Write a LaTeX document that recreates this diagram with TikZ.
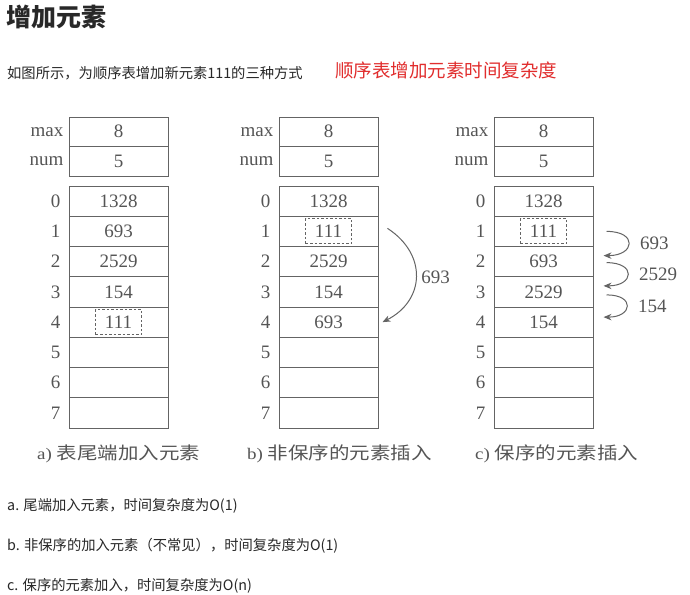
\documentclass[tikz,border=0pt]{standalone}
\usepackage{fontspec}
\setmainfont{Liberation Serif}
\newfontfamily\cjk{Noto Sans CJK SC}
\usetikzlibrary{positioning, arrows.meta}
\definecolor{linegray}{RGB}{100,100,100}
\definecolor{txtgray}{RGB}{85,85,85}
\definecolor{bodytxt}{RGB}{40,40,40}
\definecolor{hintred}{RGB}{225,45,45}

\tikzset{
  cell/.style={draw=linegray, line width=1pt, minimum width=99pt, minimum height=30.25pt, inner sep=0pt, text=txtgray, font=\fontsize{19}{19}\selectfont},
  head/.style={cell, minimum height=29.5pt},
  tag/.style={inner sep=0pt, text=txtgray, font=\fontsize{19}{19}\selectfont},
  newval/.style={tag, draw=linegray, dash pattern=on 2.5pt off 2pt, line width=0.9pt, minimum width=46pt, minimum height=25pt},
  move/.style={draw=linegray, line width=1pt, -{Stealth[length=8pt, width=6.5pt]}},
  caption/.style={inner sep=0pt, anchor=west, text=txtgray, font=\fontsize{19}{19}\selectfont},
  body/.style={inner sep=0pt, anchor=west, text=bodytxt, font=\cjk\fontsize{14.3}{14.3}\selectfont}
}

\begin{document}
\begin{tikzpicture}[x=1pt, y=-1pt]
  \useasboundingbox[fill=white] (0,0) rectangle (690,594);

  % Header text
  \node[anchor=west, inner sep=0pt, text=bodytxt, font=\cjk\bfseries\fontsize{25}{25}\selectfont] (title) at (6,17) {增加元素};
  \node[body] (intro) at (7,73) {如图所示，为顺序表增加新元素111的三种方式};
  \node[body, text=hintred, font=\cjk\fontsize{18.5}{18.5}\selectfont] (hint) at (335,70) {顺序表增加元素时间复杂度};

  % Three tables
  \foreach \t/\L in {a/69, b/279, c/494} {
    \node[head] (\t-max) at (\L+49.5, 131.75) {8};
    \node[head] (\t-num) at (\L+49.5, 161.25) {5};
    \node[tag, left=5pt of \t-max] (\t-maxtag) {max};
    \node[tag, left=5pt of \t-num] (\t-numtag) {num};
    \foreach \i in {0,...,7} {
      \node[cell] (\t\i) at (\L+49.5, 201.125+30.25*\i) {};
      \node[tag, left=8pt of \t\i] (\t\i-tag) {\i};
    }
  }

  % a) append at tail
  \node[tag] (va0) at (a0) {1328};
  \node[tag] (va1) at (a1) {693};
  \node[tag] (va2) at (a2) {2529};
  \node[tag] (va3) at (a3) {154};
  \node[newval] (va4) at (a4) {111};

  % b) unordered insert
  \node[tag] (vb0) at (b0) {1328};
  \node[newval] (vb1) at (b1) {111};
  \node[tag] (vb2) at (b2) {2529};
  \node[tag] (vb3) at (b3) {154};
  \node[tag] (vb4) at (b4) {693};
  \draw[move] ([shift={(9pt,3pt)}]b1.east) to[bend left=60, looseness=1.3]
    node[tag, right=5pt] (lb) {693} ([xshift=4pt]b4.east);

  % c) ordered insert
  \node[tag] (vc0) at (c0) {1328};
  \node[newval] (vc1) at (c1) {111};
  \node[tag] (vc2) at (c2) {693};
  \node[tag] (vc3) at (c3) {2529};
  \node[tag] (vc4) at (c4) {154};
  \draw[move] ([xshift=13pt]c1.east) to[out=0, in=0, looseness=3.3]
    node[tag, right=11pt] (lc1) {693} ([shift={(10pt,6pt)}]c2.east);
  \draw[move] ([shift={(13pt,-1pt)}]c2.east) to[out=0, in=0, looseness=3.3]
    node[tag, right=11pt] (lc2) {2529} ([shift={(10pt,6pt)}]c3.east);
  \draw[move] ([shift={(13pt,-3pt)}]c3.east) to[out=0, in=0, looseness=3.3]
    node[tag, right=11pt] (lc3) {154} ([shift={(10pt,5pt)}]c4.east);

  % Captions
  \node[caption] (capa) at (37,454) {\scalebox{1}[0.85]{a) {\cjk\fontsize{20.5}{20.5}\selectfont 表尾端加入元素}}};
  \node[caption] (capb) at (247,454) {\scalebox{1}[0.85]{b) {\cjk\fontsize{20.5}{20.5}\selectfont 非保序的元素插入}}};
  \node[caption] (capc) at (475,454) {\scalebox{1}[0.85]{c) {\cjk\fontsize{20.5}{20.5}\selectfont 保序的元素插入}}};

  % Notes
  \node[body] (nota) at (7,506) {a. 尾端加入元素，时间复杂度为O(1)};
  \node[body] (notb) at (7,546) {b. 非保序的加入元素（不常见），时间复杂度为O(1)};
  \node[body] (notc) at (7,586) {c. 保序的元素加入，时间复杂度为O(n)};
\end{tikzpicture}
\end{document}
